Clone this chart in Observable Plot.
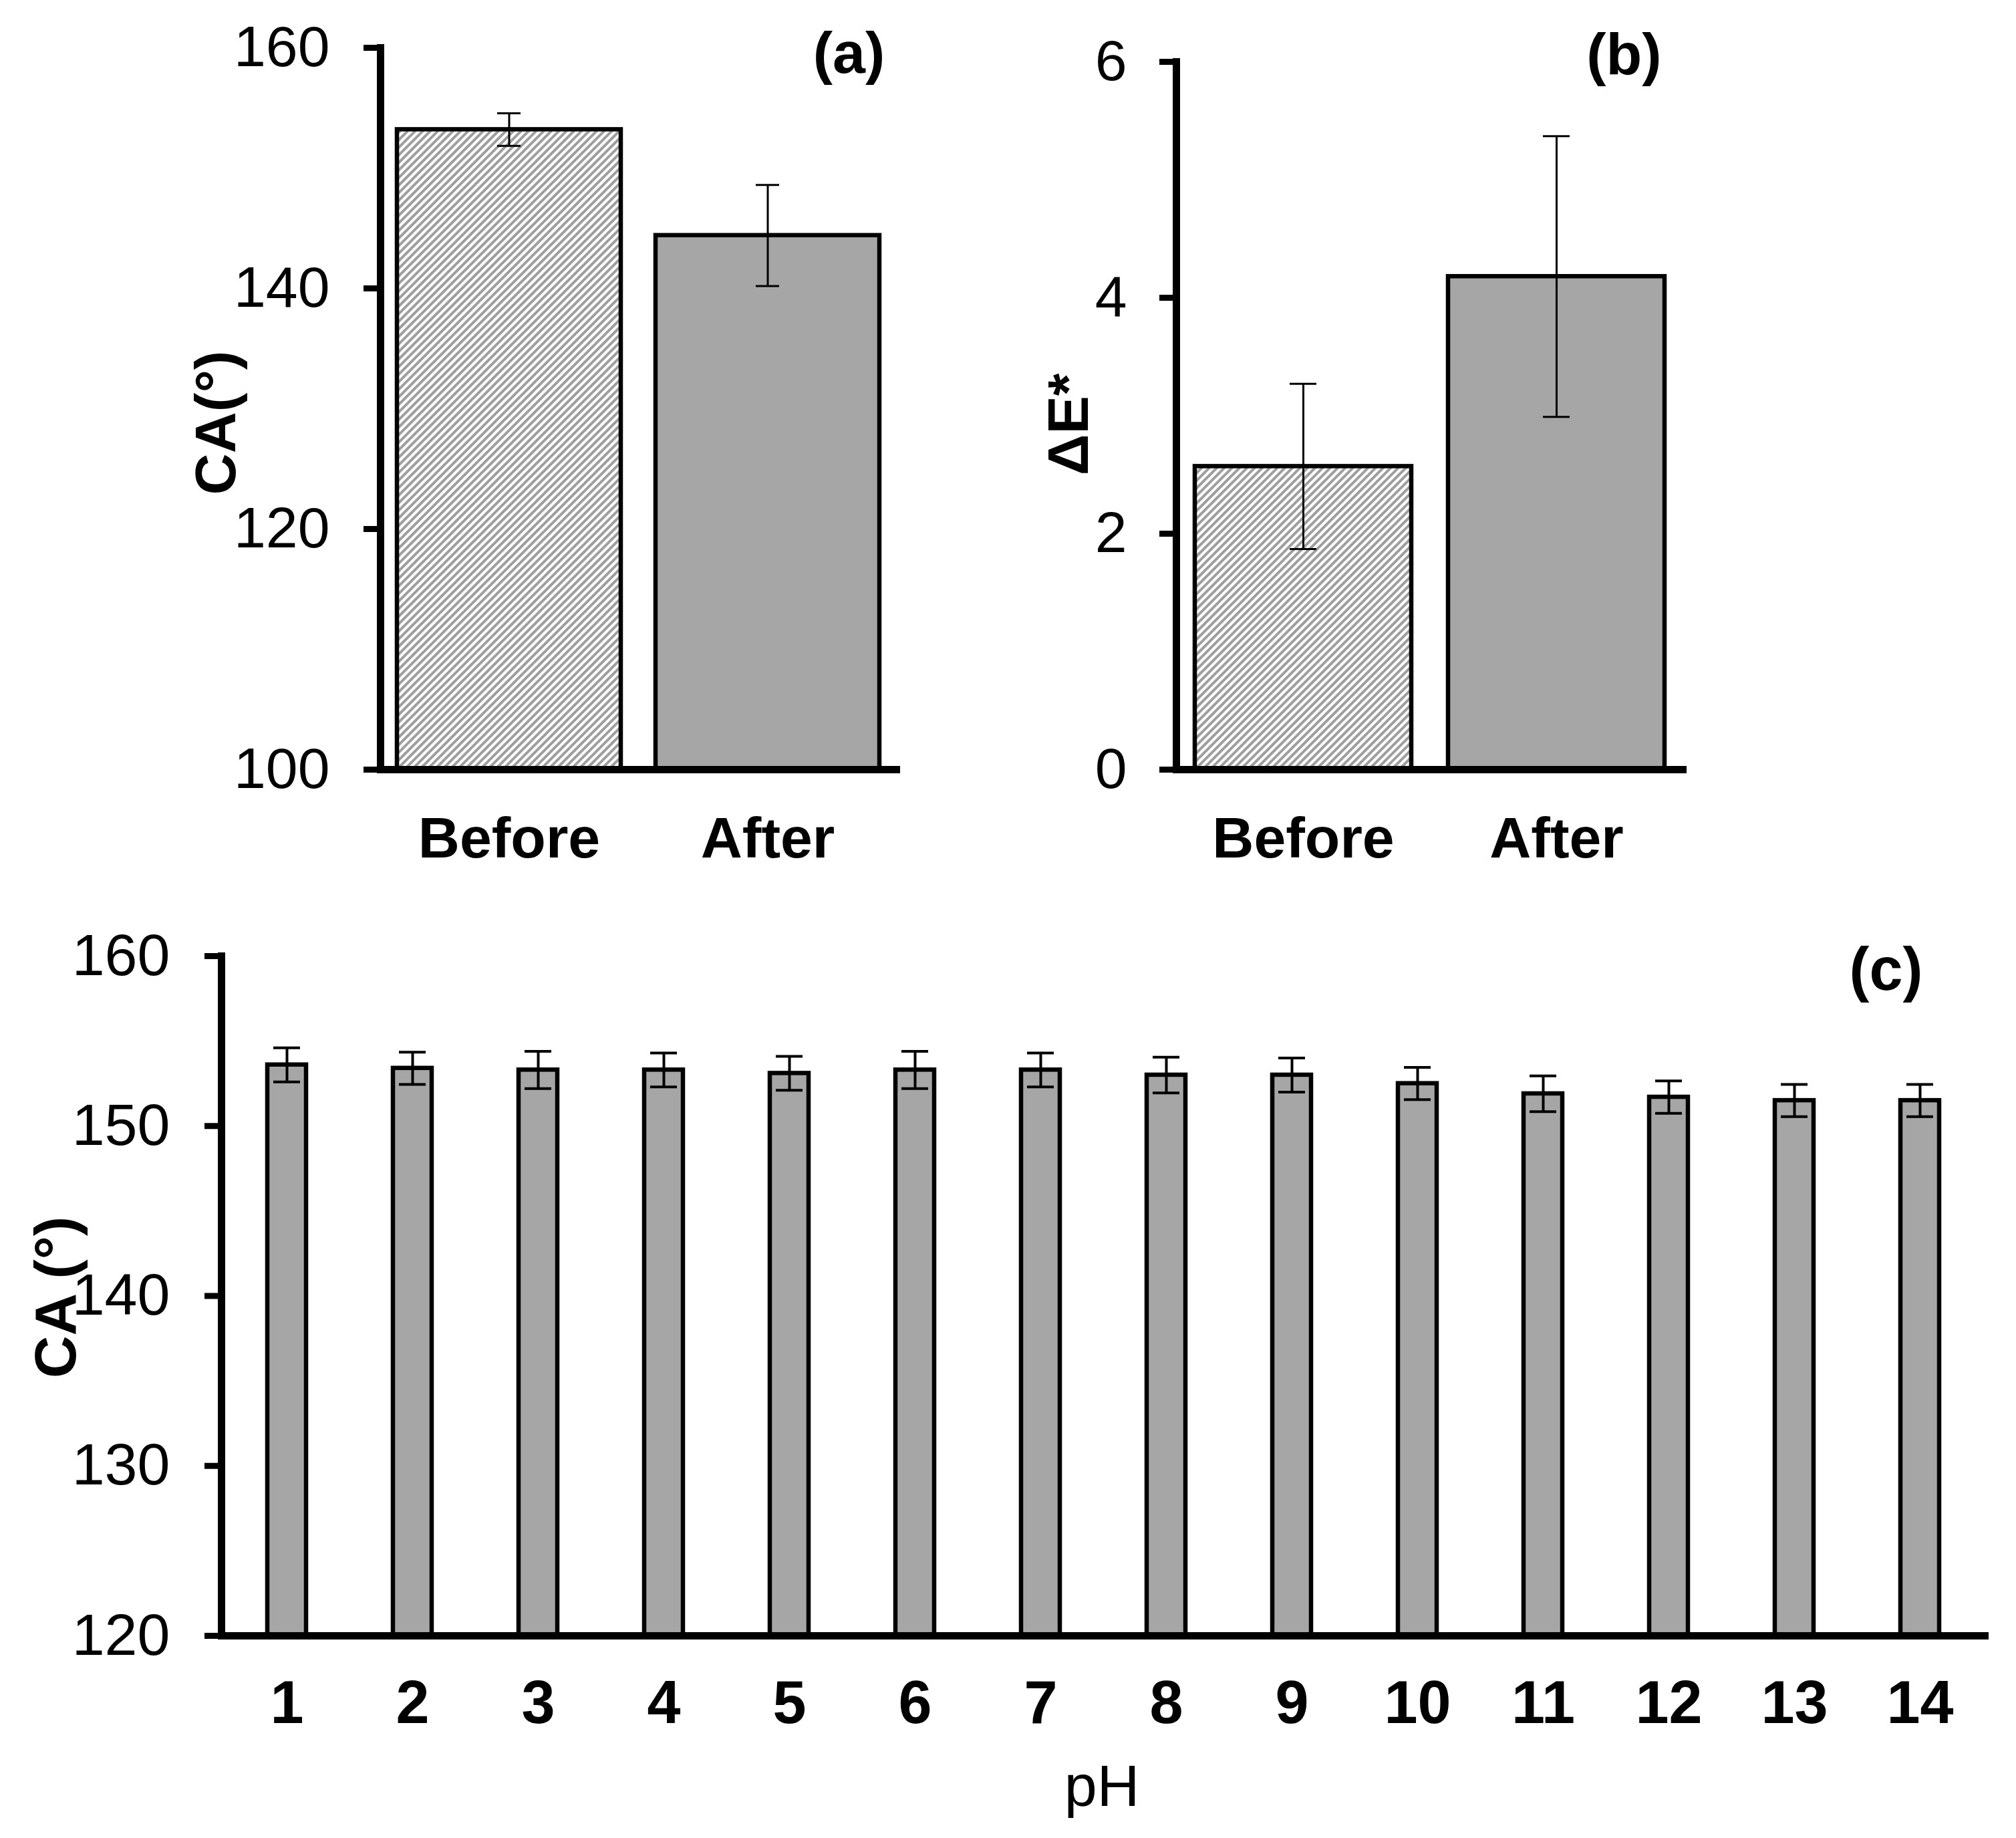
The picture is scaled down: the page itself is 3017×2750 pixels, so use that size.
<!DOCTYPE html>
<html>
<head>
<meta charset="utf-8">
<script src="https://cdn.jsdelivr.net/npm/d3@7"></script>
<script src="https://cdn.jsdelivr.net/npm/@observablehq/plot@0.6"></script>
<style>
  html, body { margin: 0; padding: 0; background: #fff; }
  #fig { position: relative; width: 3017px; height: 2750px; background: #fff; }
  #fig > svg { position: absolute; overflow: visible; }
</style>
</head>
<body>
<div id="fig"></div>
<script>
// ---------- data ----------
const groups = ["Before", "After"];
const caValues = [153.2, 144.4];
const caErrors = [1.35, 4.2];
const deltaEValues = [2.57, 4.18];
const deltaEErrors = [0.70, 1.19];
const phLevels = [1, 2, 3, 4, 5, 6, 7, 8, 9, 10, 11, 12, 13, 14];
const phCA = [153.6, 153.4, 153.3, 153.3, 153.1, 153.3, 153.3, 153.0, 153.0, 152.5, 151.9, 151.7, 151.5, 151.5];
const phErr = [1.0, 0.95, 1.1, 1.0, 1.0, 1.1, 1.0, 1.05, 1.0, 0.95, 1.05, 0.95, 0.95, 0.95];
const ticksA = [100, 120, 140, 160];
const ticksB = [0, 2, 4, 6];
const ticksC = [120, 130, 140, 150, 160];
const domainA = [100, 160];
const domainB = [0, 6];
const domainC = [120, 160];

const FONT = "'Liberation Sans', Arial, Helvetica, sans-serif";
const GREY = "#a6a6a6";
const fig = document.getElementById("fig");
const fmt = d => String(d);

function addHatch(svg, id) {
  const ns = "http://www.w3.org/2000/svg";
  const defs = document.createElementNS(ns, "defs");
  const pat = document.createElementNS(ns, "pattern");
  pat.setAttribute("id", id);
  pat.setAttribute("patternUnits", "userSpaceOnUse");
  pat.setAttribute("width", "8");
  pat.setAttribute("height", "8");
  pat.setAttribute("patternTransform", "rotate(45)");
  const bg = document.createElementNS(ns, "rect");
  bg.setAttribute("width", "8"); bg.setAttribute("height", "8"); bg.setAttribute("fill", "#ffffff");
  const st = document.createElementNS(ns, "rect");
  st.setAttribute("width", "4"); st.setAttribute("height", "8"); st.setAttribute("fill", "#9e9e9e");
  pat.appendChild(bg); pat.appendChild(st);
  defs.appendChild(pat);
  svg.insertBefore(defs, svg.firstChild);
}

function place(svg, left, top) {
  svg.style.left = left + "px";
  svg.style.top = top + "px";
  fig.appendChild(svg);
}

function panelAB(cfg) {
  const rows = groups.map((g, i) => ({group: g, value: cfg.values[i], err: cfg.errors[i]}));
  const base = cfg.domain[0];
  const svg = Plot.plot({
    width: cfg.width, height: cfg.height,
    marginLeft: cfg.mL, marginRight: cfg.mR, marginTop: cfg.mT, marginBottom: cfg.mB,
    style: {fontFamily: FONT, color: "black", background: "transparent", overflow: "visible"},
    x: {type: "band", domain: groups, paddingInner: cfg.pi, paddingOuter: cfg.po},
    y: {domain: cfg.domain},
    marks: [
      Plot.barY(rows, {filter: d => d.group === "Before", x: "group", y1: () => base, y2: "value",
        fill: `url(#${cfg.hatchId})`, stroke: "black", strokeWidth: 6.5}),
      Plot.barY(rows, {filter: d => d.group === "After", x: "group", y1: () => base, y2: "value",
        fill: GREY, stroke: "black", strokeWidth: 6.5}),
      Plot.ruleX(rows, {x: "group", y1: d => d.value - d.err, y2: d => d.value + d.err, stroke: "black", strokeWidth: 3}),
      Plot.tickY(rows, {x: "group", y: d => d.value + d.err, insetLeft: cfg.capInset, insetRight: cfg.capInset, stroke: "black", strokeWidth: 3}),
      Plot.tickY(rows, {x: "group", y: d => d.value - d.err, insetLeft: cfg.capInset, insetRight: cfg.capInset, stroke: "black", strokeWidth: 3}),
      Plot.frame({anchor: "left", stroke: "black", strokeWidth: 11}),
      Plot.frame({anchor: "bottom", stroke: "black", strokeWidth: 11}),
      Plot.axisY({ticks: cfg.ticks, tickFormat: fmt, tickSize: 25, tickPadding: cfg.tickPad, strokeWidth: 9, fontSize: 86, label: null}),
      Plot.axisX({tickSize: 0, tickPadding: 70, fontSize: 86, fontWeight: "bold", label: null}),
      Plot.text([cfg.ylabel], {frameAnchor: "left", rotate: -90, textAnchor: "middle", lineAnchor: "bottom",
        dx: cfg.ylDx, dy: cfg.ylDy, fontSize: 86, fontWeight: "bold"}),
      Plot.text([cfg.tag], {frameAnchor: "top-right", textAnchor: "middle", lineAnchor: "bottom",
        dx: cfg.tagDx, dy: cfg.tagDy, fontSize: 88, fontWeight: "bold"})
    ]
  });
  addHatch(svg, cfg.hatchId);
  return svg;
}

// Panel (a)
place(panelAB({
  values: caValues, errors: caErrors, domain: domainA, ticks: ticksA,
  width: 1500, height: 1330, mL: 569, mR: 159, mT: 71, mB: 179,
  pi: 0.135, po: 0.0635, capInset: 150, tickPad: 51, hatchId: "hatchA",
  ylabel: "CA(°)", ylDx: -218, ylDy: 21, tag: "(a)", tagDx: -71, tagDy: 37
}), 0, 0);

// Panel (b)
place(panelAB({
  values: deltaEValues, errors: deltaEErrors, domain: domainB, ticks: ticksB,
  width: 1517, height: 1330, mL: 260, mR: 499, mT: 92, mB: 179,
  pi: 0.146, po: 0.0705, capInset: 142, tickPad: 49, hatchId: "hatchB",
  ylabel: "ΔE*", ylDx: -133, ylDy: 13, tag: "(b)", tagDx: -88, tagDy: 18
}), 1500, 0);

// Panel (c)
const rowsC = phLevels.map((p, i) => ({ph: p, value: phCA[i], err: phErr[i]}));
const svgC = Plot.plot({
  width: 3017, height: 1420,
  marginLeft: 331, marginRight: 47, marginTop: 100, marginBottom: 303,
  style: {fontFamily: FONT, color: "black", background: "transparent", overflow: "visible"},
  x: {type: "band", domain: phLevels, paddingInner: 0.692, paddingOuter: 0.346},
  y: {domain: domainC},
  marks: [
    Plot.barY(rowsC, {x: "ph", y1: () => domainC[0], y2: "value", fill: GREY, stroke: "black", strokeWidth: 6.5}),
    Plot.ruleX(rowsC, {x: "ph", y1: d => d.value - d.err, y2: d => d.value + d.err, stroke: "black", strokeWidth: 4}),
    Plot.tickY(rowsC, {x: "ph", y: d => d.value + d.err, insetLeft: 9, insetRight: 9, stroke: "black", strokeWidth: 4}),
    Plot.tickY(rowsC, {x: "ph", y: d => d.value - d.err, insetLeft: 9, insetRight: 9, stroke: "black", strokeWidth: 4}),
    Plot.frame({anchor: "left", stroke: "black", strokeWidth: 11}),
    Plot.frame({anchor: "bottom", stroke: "black", strokeWidth: 11}),
    Plot.axisY({ticks: ticksC, tickFormat: fmt, tickSize: 25, tickPadding: 52, strokeWidth: 9, fontSize: 88, label: null}),
    Plot.axisX({tickSize: 0, tickPadding: 67, fontSize: 90, fontWeight: "bold", label: null}),
    Plot.text(["CA (°)"], {frameAnchor: "left", rotate: -90, textAnchor: "middle", lineAnchor: "bottom",
      dx: -219, dy: 2, fontSize: 88, fontWeight: "bold"}),
    Plot.text(["pH"], {frameAnchor: "bottom", textAnchor: "middle", lineAnchor: "bottom",
      dx: -2, dy: 254, fontSize: 88}),
    Plot.text(["(c)"], {frameAnchor: "top-right", textAnchor: "middle", lineAnchor: "bottom",
      dx: -148, dy: 50, fontSize: 90, fontWeight: "bold"})
  ]
});
place(svgC, 0, 1330);
</script>
</body>
</html>
